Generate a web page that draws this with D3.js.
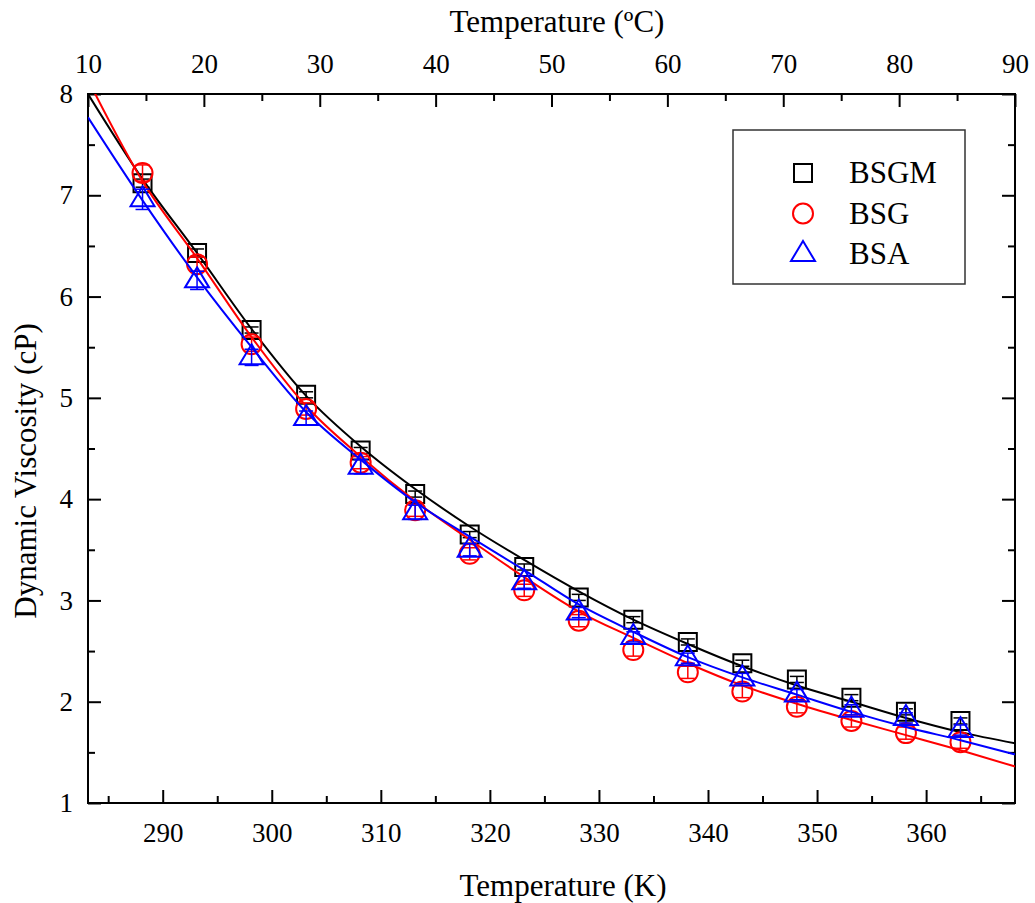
<html>
<head>
<meta charset="utf-8">
<style>
    body { margin: 0; background: #fff; }
    text { font-family: "Liberation Serif", "Times New Roman", serif; fill: #000; }
    .axis path { display: none; }
    .axis line { stroke: #000; stroke-width: 2; }
    .axis text { font-size: 27px; font-family: "Liberation Serif", "Times New Roman", serif; }
</style>
<script src="https://cdn.jsdelivr.net/npm/d3@7"></script>
</head>
<body>
<script>

    // measured points (K)
    var tempK = [288.15, 293.15, 298.15, 303.15, 308.15, 313.15, 318.15, 323.15,
                 328.15, 333.15, 338.15, 343.15, 348.15, 353.15, 358.15, 363.15];
    var bsgm = [7.12, 6.43, 5.67, 5.03, 4.48, 4.05, 3.65, 3.33, 3.03, 2.81, 2.59, 2.38, 2.22, 2.04, 1.90, 1.81];
    var bsg  = [7.22, 6.32, 5.53, 4.89, 4.36, 3.89, 3.46, 3.10, 2.80, 2.51, 2.29, 2.10, 1.95, 1.81, 1.69, 1.60];
    var bsa  = [6.96, 6.16, 5.40, 4.80, 4.32, 3.87, 3.50, 3.18, 2.88, 2.64, 2.43, 2.23, 2.07, 1.92, 1.84, 1.72];
    var errBsgm = [0.04, 0.04, 0.03, 0.03, 0.03, 0.03, 0.03, 0.03, 0.03, 0.03, 0.03, 0.03, 0.03, 0.03, 0.03, 0.03];
    var errBsg  = [0.08, 0.07, 0.07, 0.06, 0.06, 0.06, 0.06, 0.06, 0.06, 0.06, 0.06, 0.06, 0.06, 0.06, 0.06, 0.06];
    var errBsa  = [0.10, 0.09, 0.08, 0.07, 0.07, 0.07, 0.06, 0.06, 0.05, 0.05, 0.05, 0.05, 0.05, 0.05, 0.05, 0.05];

    // fitted curves
    var fitK = [283.15, 288.15, 293.15, 298.15, 303.15, 308.15, 313.15, 318.15, 323.15,
                328.15, 333.15, 338.15, 343.15, 348.15, 353.15, 358.15, 363.15, 368.15];
    var fitBsgm = [8.00, 7.16, 6.43, 5.68, 5.02, 4.52, 4.10, 3.73, 3.40, 3.09, 2.81, 2.57, 2.35, 2.16, 2.00, 1.84, 1.70, 1.59];
    var fitBsg  = [8.14, 7.14, 6.38, 5.60, 4.92, 4.42, 3.98, 3.60, 3.23, 2.89, 2.63, 2.38, 2.16, 1.98, 1.82, 1.67, 1.52, 1.36];
    var fitBsa  = [7.77, 6.95, 6.19, 5.50, 4.86, 4.39, 3.97, 3.63, 3.30, 2.96, 2.69, 2.44, 2.24, 2.07, 1.90, 1.75, 1.62, 1.48];

    var seriesNames = ["BSGM", "BSG", "BSA"];
    var seriesColors = ["#000000", "#ff0000", "#0000ff"];
    var seriesShapes = ["square", "circle", "triangle"];

    var margin = {top: 94, left: 88, right: 20, bottom: 100},
        width = 927,
        height = 709;

    var svg = d3.select("body").append("svg")
        .attr("width", 1035)
        .attr("height", 903);

    var g = svg.append("g")
        .attr("transform", "translate(" + margin.left + "," + margin.top + ")");

    var x = d3.scaleLinear().domain([283.15, 368.15]).range([0, width]);
    var xc = d3.scaleLinear().domain([10, 90]).range([0, width]);
    var y = d3.scaleLinear().domain([1, 8]).range([height, 0]);

    // axes, ticks pointing inward
    function noLabel() { return ""; }

    g.append("g").attr("class", "axis")
        .attr("transform", "translate(0," + height + ")")
        .call(d3.axisBottom(x).tickValues(d3.range(290, 361, 10)).tickSizeInner(-13).tickSizeOuter(0).tickPadding(20).tickFormat(d3.format("d")));
    g.append("g").attr("class", "axis")
        .attr("transform", "translate(0," + height + ")")
        .call(d3.axisBottom(x).tickValues(d3.range(285, 366, 10)).tickSizeInner(-7).tickSizeOuter(0).tickFormat(noLabel));

    g.append("g").attr("class", "axis")
        .call(d3.axisTop(xc).tickValues(d3.range(10, 91, 10)).tickSizeInner(-13).tickSizeOuter(0).tickPadding(21).tickFormat(d3.format("d")));
    g.append("g").attr("class", "axis")
        .call(d3.axisTop(xc).tickValues(d3.range(15, 86, 10)).tickSizeInner(-7).tickSizeOuter(0).tickFormat(noLabel));

    g.append("g").attr("class", "axis")
        .call(d3.axisLeft(y).tickValues(d3.range(1, 9, 1)).tickSizeInner(-13).tickSizeOuter(0).tickPadding(15).tickFormat(d3.format("d")));
    g.append("g").attr("class", "axis")
        .call(d3.axisLeft(y).tickValues(d3.range(1.5, 8, 1)).tickSizeInner(-7).tickSizeOuter(0).tickFormat(noLabel));

    g.append("g").attr("class", "axis")
        .attr("transform", "translate(" + width + ",0)")
        .call(d3.axisRight(y).tickValues(d3.range(1, 9, 1)).tickSizeInner(-13).tickSizeOuter(0).tickFormat(noLabel));
    g.append("g").attr("class", "axis")
        .attr("transform", "translate(" + width + ",0)")
        .call(d3.axisRight(y).tickValues(d3.range(1.5, 8, 1)).tickSizeInner(-7).tickSizeOuter(0).tickFormat(noLabel));

    g.append("rect")
        .attr("width", width)
        .attr("height", height)
        .attr("fill", "none")
        .attr("stroke", "#000")
        .attr("stroke-width", 2);

    // titles
    svg.append("text")
        .attr("x", 557).attr("y", 32)
        .attr("text-anchor", "middle")
        .attr("font-size", "31px")
        .text("Temperature (ºC)");

    svg.append("text")
        .attr("x", 563).attr("y", 896)
        .attr("text-anchor", "middle")
        .attr("font-size", "31px")
        .text("Temperature (K)");

    svg.append("text")
        .attr("transform", "translate(36,471) rotate(-90)")
        .attr("text-anchor", "middle")
        .attr("font-size", "31px")
        .text("Dynamic Viscosity (cP)");

    // marker shapes
    function shapePath(shape) {
        if (shape === "square") return "M-9,-9H9V9H-9Z";
        if (shape === "circle") return "M10,0A10,10 0 1,1 -10,0A10,10 0 1,1 10,0Z";
        return "M0,-13L12,7H-12Z";
    }

    var clip = g.append("clipPath").attr("id", "plot-clip")
        .append("rect").attr("width", width).attr("height", height);

    var values = [bsgm, bsg, bsa];
    var errors = [errBsgm, errBsg, errBsa];
    var fits = [fitBsgm, fitBsg, fitBsa];

    var line = d3.line()
        .x(function (d) { return x(d[0]); })
        .y(function (d) { return y(d[1]); })
        .curve(d3.curveMonotoneX);

    seriesNames.forEach(function (name, s) {
        var pts = tempK.map(function (t, i) {
            return {t: t, v: values[s][i], e: errors[s][i]};
        });
        var sg = g.append("g")
            .attr("stroke", seriesColors[s])
            .attr("fill", "none");

        // error bars
        var eb = sg.selectAll(".eb").data(pts).enter().append("g")
            .attr("stroke-width", 1.5);
        eb.append("line")
            .attr("x1", function (d) { return x(d.t); })
            .attr("x2", function (d) { return x(d.t); })
            .attr("y1", function (d) { return y(d.v - d.e); })
            .attr("y2", function (d) { return y(d.v + d.e); });
        eb.append("line")
            .attr("x1", function (d) { return x(d.t) - 7; })
            .attr("x2", function (d) { return x(d.t) + 7; })
            .attr("y1", function (d) { return y(d.v - d.e); })
            .attr("y2", function (d) { return y(d.v - d.e); });
        eb.append("line")
            .attr("x1", function (d) { return x(d.t) - 7; })
            .attr("x2", function (d) { return x(d.t) + 7; })
            .attr("y1", function (d) { return y(d.v + d.e); })
            .attr("y2", function (d) { return y(d.v + d.e); });

        sg.selectAll(".mk").data(pts).enter().append("path")
            .attr("stroke-width", 2)
            .attr("transform", function (d) { return "translate(" + x(d.t) + "," + y(d.v) + ")"; })
            .attr("d", shapePath(seriesShapes[s]));

        sg.append("path")
            .datum(fitK.map(function (t, i) { return [t, fits[s][i]]; }))
            .attr("clip-path", "url(#plot-clip)")
            .attr("stroke-width", 2)
            .attr("d", line);
    });

    // legend
    var lg = svg.append("g");
    lg.append("rect")
        .attr("x", 733).attr("y", 130)
        .attr("width", 232).attr("height", 154)
        .attr("fill", "#fff")
        .attr("stroke", "#333")
        .attr("stroke-width", 1.5);

    var items = lg.selectAll(".item").data(seriesNames).enter().append("g")
        .attr("transform", function (d, i) { return "translate(0," + (183 + i * 40.5) + ")"; });
    items.append("path")
        .attr("transform", "translate(803,-10)")
        .attr("d", function (d, i) { return shapePath(seriesShapes[i]); })
        .attr("fill", "none")
        .attr("stroke-width", 2)
        .attr("stroke", function (d, i) { return seriesColors[i]; });
    items.append("text")
        .attr("x", 849)
        .attr("font-size", "31px")
        .text(function (d) { return d; });

</script>
</body>
</html>
